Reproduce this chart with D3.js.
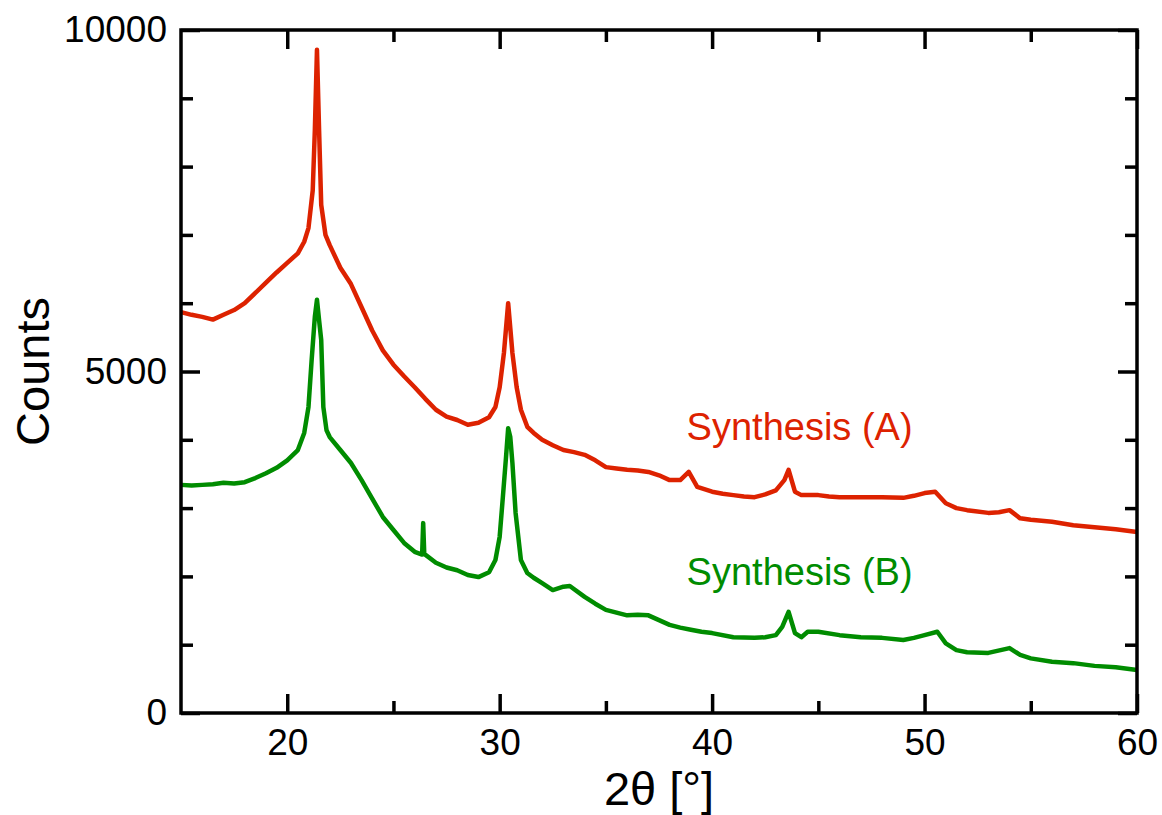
<!DOCTYPE html>
<html>
<head>
<meta charset="utf-8">
<script src="https://cdn.jsdelivr.net/npm/d3@7"></script>
<style>
  body { margin: 0; background: #fff; }
  text { font-family: "Liberation Sans", Arial, sans-serif; }
</style>
</head>
<body>
<div id="chart-area"></div>
<script>
// values (2theta in degrees, counts)
const angleA = [15, 15.5, 16, 16.5, 17, 17.5, 18, 18.5, 19, 19.5, 20, 20.5, 20.8, 21, 21.2, 21.3, 21.4, 21.5, 21.6, 21.8,
  22, 22.5, 23, 23.5, 24, 24.5, 25, 25.5, 26, 26.5, 27, 27.5, 28, 28.5, 29, 29.5, 29.8, 30, 30.2, 30.4, 30.6, 30.8,
  31, 31.3, 31.6, 32, 32.5, 33, 33.5, 34, 34.5, 35, 35.5, 36, 36.5, 37, 37.5, 38, 38.5, 38.9, 39.3, 40, 40.5, 41, 41.5,
  42, 42.5, 43, 43.4, 43.6, 43.9, 44.2, 45, 45.5, 46, 47, 48, 49, 49.5, 50, 50.5, 51, 51.5, 52, 53, 53.5, 54, 54.5,
  55, 56, 57, 58, 59, 60];
const countsA = [5870, 5830, 5800, 5760, 5830, 5900, 6000, 6150, 6300, 6450, 6590, 6730, 6900, 7100, 7650, 8530, 9710, 8530, 7440, 7000,
  6850, 6520, 6280, 5940, 5600, 5310, 5100, 4930, 4770, 4600, 4440, 4340, 4290, 4220, 4250, 4330, 4480, 4770, 5270, 6000, 5270, 4770,
  4440, 4190, 4100, 4000, 3920, 3850, 3820, 3780, 3700, 3600, 3580, 3560, 3550, 3530, 3480, 3410, 3410, 3530, 3310, 3240, 3210, 3190, 3170,
  3160, 3200, 3260, 3410, 3560, 3240, 3190, 3190, 3170, 3160, 3160, 3160, 3150, 3180, 3220, 3240, 3070, 3000, 2970, 2930, 2940, 2970, 2850,
  2830, 2800, 2750, 2720, 2690, 2650];

const angleB = [15, 15.5, 16, 16.5, 17, 17.5, 18, 18.5, 19, 19.5, 20, 20.5, 20.8, 21, 21.15, 21.3, 21.4, 21.5, 21.6, 21.7, 21.85,
  22, 22.5, 23, 23.5, 24, 24.5, 25, 25.5, 26, 26.35, 26.4, 26.45, 27, 27.5, 28, 28.5, 29, 29.5, 29.8, 30, 30.15, 30.3, 30.4, 30.5,
  30.6, 30.75, 31, 31.3, 31.6, 32, 32.5, 33, 33.3, 34, 34.5, 35, 35.5, 36, 36.5, 37, 37.5, 38, 38.5, 39, 39.5, 40, 41, 42, 42.5,
  43, 43.3, 43.6, 43.9, 44.2, 44.5, 45, 46, 47, 48, 49, 49.5, 50, 50.6, 51, 51.5, 52, 53, 54, 54.5, 55, 56, 57, 58, 59, 60];
const countsB = [3340, 3330, 3340, 3350, 3370, 3360, 3380, 3440, 3510, 3590, 3700, 3850, 4100, 4480, 5170, 5800, 6050, 5750, 5460, 4480, 4140,
  4040, 3850, 3660, 3410, 3140, 2870, 2680, 2490, 2360, 2320, 2780, 2330, 2200, 2130, 2090, 2020, 1990, 2060, 2240, 2580, 3160, 3750, 4170, 4040,
  3660, 2930, 2240, 2050, 1980, 1900, 1800, 1850, 1860, 1700, 1600, 1510, 1470, 1430, 1440, 1430, 1360, 1290, 1250, 1220, 1190, 1170, 1110, 1100, 1110,
  1140, 1260, 1480, 1170, 1110, 1190, 1190, 1140, 1110, 1100, 1070, 1100, 1140, 1190, 1020, 920, 890, 880, 950, 850, 800, 750, 730, 690, 670, 630];

const seriesNames = ["Synthesis (A)", "Synthesis (B)"];
const seriesColors = ["#dd2200", "#008c00"];

const xMajor = [20, 30, 40, 50, 60];
const xMinor = [25, 35, 45, 55];
const yMajor = [0, 5000, 10000];
const yMinor = [1000, 2000, 3000, 4000, 6000, 7000, 8000, 9000];

let margin = { left: 181, right: 25, top: 30, bottom: 102 };
let svgW = 1162;
let svgH = 815;
let chartW = svgW - margin.left - margin.right;
let chartH = svgH - margin.top - margin.bottom;

let x = d3.scaleLinear().domain([15, 60]).range([0, chartW]);
let y = d3.scaleLinear().domain([0, 10000]).range([chartH, 0]);

let svg = d3.select("#chart-area")
  .append("svg")
  .attr("width", svgW)
  .attr("height", svgH);

let group = svg.append("g")
  .attr("transform", `translate(${margin.left},${margin.top})`);

// curves
const seriesData = [
  angleA.map((a, i) => [a, countsA[i]]),
  angleB.map((a, i) => [a, countsB[i]])
];

let line = d3.line()
  .x(d => x(d[0]))
  .y(d => y(d[1]));

group.selectAll("path.curve")
  .data(seriesData)
  .enter()
  .append("path")
  .attr("class", "curve")
  .attr("d", line)
  .attr("fill", "none")
  .attr("stroke", (d, i) => seriesColors[i])
  .attr("stroke-width", 4.5)
  .attr("stroke-linejoin", "round");

// axes: ticks pointing inward on all four sides
const styleAxis = (g) => {
  g.select(".domain").remove();
  g.selectAll(".tick line").attr("stroke", "#000").attr("stroke-width", 3.5);
  g.selectAll(".tick text")
    .attr("fill", "#000")
    .style("font-size", "37px")
    .style("font-family", "'Liberation Sans', Arial, sans-serif");
};

group.append("g")
  .attr("transform", `translate(0,${chartH})`)
  .call(d3.axisBottom(x).tickValues(xMajor).tickSizeInner(-19).tickSizeOuter(0).tickPadding(16).tickFormat(d3.format("d")))
  .call(styleAxis);
group.append("g")
  .attr("transform", `translate(0,${chartH})`)
  .call(d3.axisBottom(x).tickValues(xMinor).tickSize(-12).tickFormat(""))
  .call(styleAxis);
group.append("g")
  .call(d3.axisTop(x).tickValues(xMajor).tickSize(-19).tickFormat(""))
  .call(styleAxis);
group.append("g")
  .call(d3.axisTop(x).tickValues(xMinor).tickSize(-12).tickFormat(""))
  .call(styleAxis);

group.append("g")
  .call(d3.axisLeft(y).tickValues(yMajor).tickSizeInner(-19).tickSizeOuter(0).tickPadding(14).tickFormat(d3.format("d")))
  .call(styleAxis);
group.append("g")
  .call(d3.axisLeft(y).tickValues(yMinor).tickSize(-12).tickFormat(""))
  .call(styleAxis);
group.append("g")
  .attr("transform", `translate(${chartW},0)`)
  .call(d3.axisRight(y).tickValues(yMajor).tickSize(-19).tickFormat(""))
  .call(styleAxis);
group.append("g")
  .attr("transform", `translate(${chartW},0)`)
  .call(d3.axisRight(y).tickValues(yMinor).tickSize(-12).tickFormat(""))
  .call(styleAxis);

// frame
group.append("rect")
  .attr("width", chartW)
  .attr("height", chartH)
  .attr("fill", "none")
  .attr("stroke", "#000")
  .attr("stroke-width", 3.5);

// series labels
const labelPos = [[38.8, 4000], [38.8, 1870]];
group.selectAll("text.series")
  .data(seriesNames)
  .enter()
  .append("text")
  .attr("class", "series")
  .attr("x", (d, i) => x(labelPos[i][0]))
  .attr("y", (d, i) => y(labelPos[i][1]))
  .attr("fill", (d, i) => seriesColors[i])
  .style("font-size", "38px")
  .text(d => d);

// axis titles
svg.append("text")
  .attr("x", margin.left + chartW / 2)
  .attr("y", 805)
  .attr("text-anchor", "middle")
  .style("font-size", "47px")
  .text("2θ [°]");

svg.append("text")
  .attr("transform", `translate(49,${margin.top + y(5000)}) rotate(-90)`)
  .attr("text-anchor", "middle")
  .style("font-size", "47px")
  .text("Counts");
</script>
</body>
</html>
